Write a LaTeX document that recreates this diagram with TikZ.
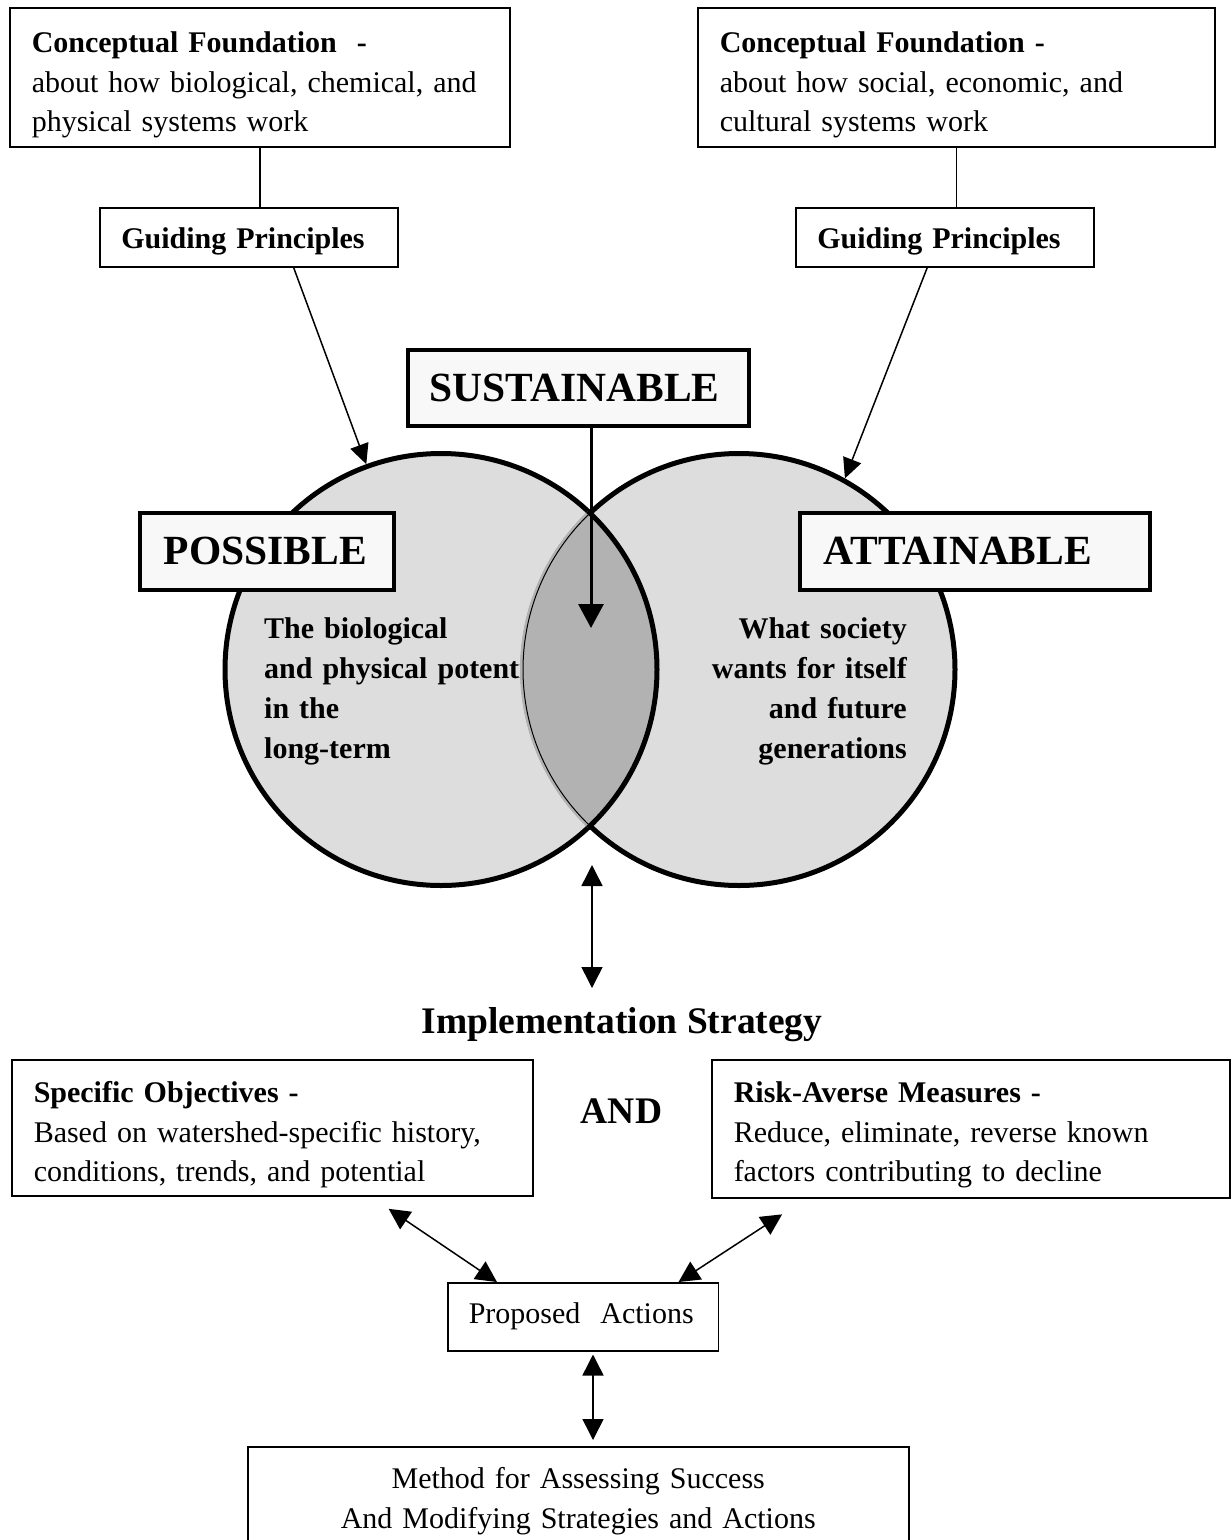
\documentclass[tikz,border=0pt]{standalone}
\usepackage{fontspec}
\setmainfont{Liberation Serif}
\usetikzlibrary{arrows.meta}
\definecolor{venngray}{HTML}{DDDDDD}
\definecolor{lensgray}{HTML}{B2B2B2}
\definecolor{boxgray}{HTML}{F8F8F8}
\begin{document}
\begin{tikzpicture}[x=1pt, y=-1pt,
    text box/.style={draw, line width=1.5pt, anchor=north west, align=left, inner ysep=0pt,
      font=\fontsize{30}{39.5}\selectfont},
    title box/.style={draw, line width=3.5pt, fill=boxgray, anchor=north west, align=left,
      inner ysep=0pt, minimum height=77pt, font=\fontsize{41.5}{48}\selectfont\bfseries},
    venn circle/.style={circle, draw, line width=5pt, fill=venngray, minimum size=432pt, inner sep=0pt},
    venn text/.style={inner sep=0pt, font=\fontsize{30}{40}\selectfont\bfseries},
    link/.style={line width=1.5pt, -{Triangle[length=20pt,width=19pt]}},
    twoway/.style={line width=1.5pt, {Triangle[length=21pt,width=21pt]}-{Triangle[length=21pt,width=21pt]}}]

  \useasboundingbox (0,0) rectangle (1231,1540);

  \node[text box, text width=456pt, inner xsep=22pt, text height=45pt, text depth=94pt] (cf1) at (9,7)
    {\textbf{Conceptual Foundation~ -}\\ about how biological, chemical, and\\ physical systems work};
  \node[text box, text width=473pt, inner xsep=22pt, text height=45pt, text depth=94pt] (cf2) at (697,7)
    {\textbf{Conceptual Foundation -}\\ about how social, economic, and\\ cultural systems work};
  \node[text box, text width=255pt, inner xsep=21.5pt, text height=41pt, text depth=18pt,
    font=\fontsize{30}{39.5}\selectfont\bfseries] (gp1) at (99,207) {Guiding Principles};
  \node[text box, text width=255pt, inner xsep=21.5pt, text height=41pt, text depth=18pt,
    font=\fontsize{30}{39.5}\selectfont\bfseries] (gp2) at (795,207) {Guiding Principles};

  \path[line width=1.5pt]
    (cf1.south) edge (cf1.south |- gp1.north)
    (cf2.south) edge (cf2.south |- gp2.north);

  % the two circles and their overlap
  \node[venn circle] (c1) at (441,669.5) {};
  \node[venn circle] (c2) at (739,669.5) {};
  \node[venn text, text width=320pt, align=left, anchor=base west] (ptext) at (264,638)
    {The biological\\ and physical potential\\ in the\\ long-term};
  \node[venn text, text width=280pt, align=right, anchor=base east] (atext) at (907,638)
    {What society\\ wants for itself\\ and future\\ generations};
  \begin{scope}
    \clip (c1.center) circle (216pt);
    \fill[lensgray] (c2.center) circle (219pt);
    \draw[line width=1pt] (c2.center) circle (216pt);
  \end{scope}
  \begin{scope}
    \clip (c2.center) circle (219pt);
    \draw[line width=5pt] (c1.center) circle (216pt);
  \end{scope}

  \node[title box, text width=297pt, inner xsep=22pt, minimum height=76pt] (sus) at (406,348) {SUSTAINABLE};
  \node[title box, text width=206pt, inner xsep=24pt] (pos) at (138,511) {POSSIBLE};
  \node[title box, text width=302pt, inner xsep=24pt] (att) at (798,511) {ATTAINABLE};

  \coordinate (core) at (591,628);
  \draw[line width=3pt, -{Triangle[length=24pt,width=25pt]}] (sus.south -| core) -- (core);

  \path[link]
    (gp1.-34) edge (c1.110)
    (gp2.-120) edge (c2.61);

  \coordinate (vtop) at (592,865);
  \coordinate (vbot) at (592,988);
  \draw[twoway] (vtop) -- (vbot);

  % implementation
  \node[anchor=base, inner sep=0pt, font=\fontsize{37.5}{45}\selectfont\bfseries] (impl) at (622,1033)
    {Implementation Strategy};
  \node[anchor=base, inner sep=0pt, font=\fontsize{37.5}{45}\selectfont\bfseries] (and) at (621.5,1123) {AND};

  \node[text box, text width=477pt, inner xsep=22pt, text height=43pt, text depth=93pt] (so) at (11,1059)
    {\textbf{Specific Objectives -}\\ Based on watershed-specific history,\\ conditions, trends, and potential};
  \node[text box, text width=474pt, inner xsep=22pt, text height=43pt, text depth=95pt] (ra) at (711,1059)
    {\textbf{Risk-Averse Measures -}\\ Reduce, eliminate, reverse known\\ factors contributing to decline};
  \node[text box, text width=228.5pt, inner xsep=21pt, text height=41pt, text depth=27pt] (pa) at (447,1282)
    {Proposed~~Actions};
  \node[text box, text width=661pt, inner xsep=0pt, align=center, text height=42pt, text depth=110pt] (msa) at (247,1446)
    {Method for Assessing Success\\ And Modifying Strategies and Actions};

  \path[twoway]
    (pa.158) edge[shorten >=22pt] (so.-35)
    (pa.20) edge[shorten >=29pt] (ra.-157);

  \coordinate (pm) at (593,1400);
  \draw[twoway, shorten <=3pt, shorten >=6pt] (pm |- pa.south) -- (pm |- msa.north);
\end{tikzpicture}
\end{document}
